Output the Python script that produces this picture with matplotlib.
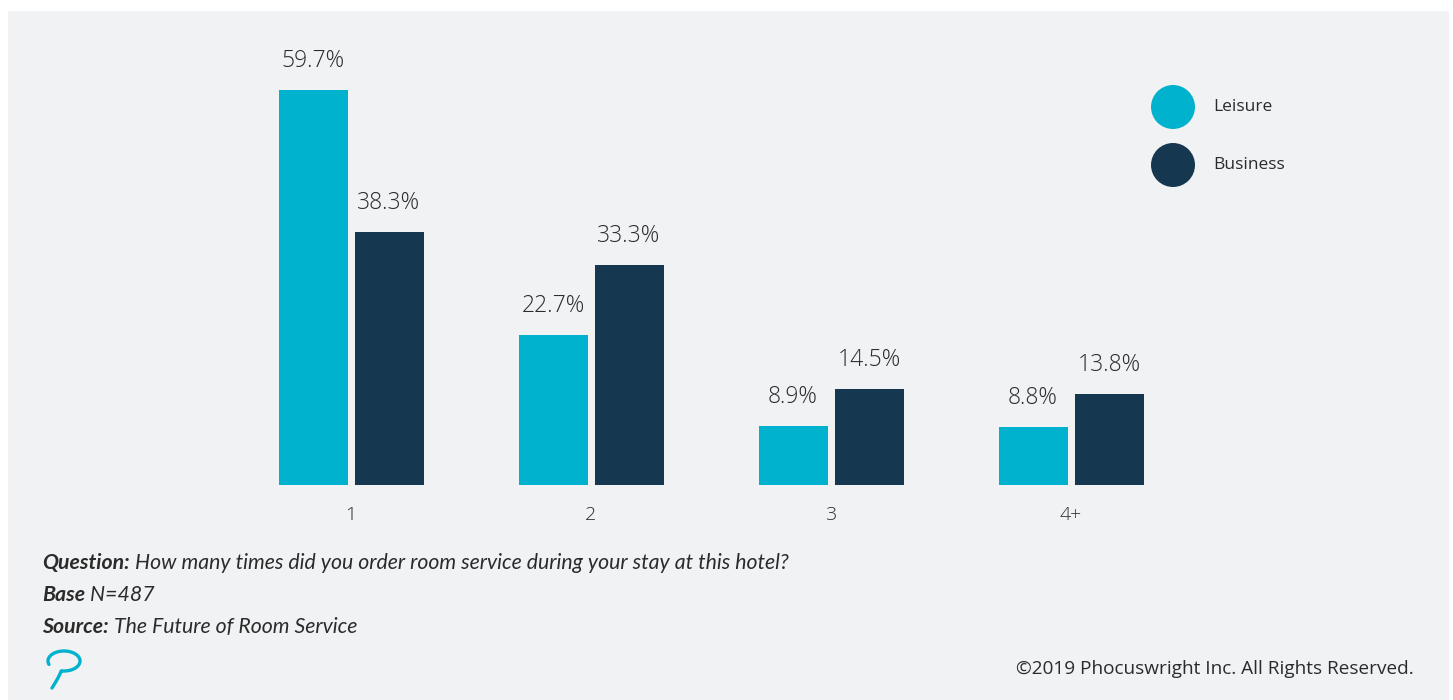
import numpy as np
import matplotlib
matplotlib.use("Agg")
import matplotlib.pyplot as plt
from matplotlib.patches import Rectangle, Ellipse

# Data
categories = ["1", "2", "3", "4+"]
leisure = [59.7, 22.7, 8.9, 8.8]
business = [38.3, 33.3, 14.5, 13.8]
series_names = ["Leisure", "Business"]

CYAN = "#00B2CD"
NAVY = "#15374F"
PANEL = "#F1F2F4"
TEXT = "#2B2B2B"

W, H = 1453, 700
fig = plt.figure(figsize=(W / 100, H / 100), dpi=100, facecolor="white")

# Grey panel behind everything
fig.patches.append(Rectangle((8 / W, 0), (1449 - 8) / W, (H - 11) / H,
                             transform=fig.transFigure, facecolor=PANEL,
                             edgecolor="none", zorder=-5))

# Axes placement in pixels
ax_left, ax_right = 200, 1220
ax_bottom, ax_top = H - 485, H - 40
ax = fig.add_axes([ax_left / W, ax_bottom / H, (ax_right - ax_left) / W,
                   (ax_top - ax_bottom) / H])
ax.set_facecolor("none")
ax.set_zorder(2)

unit = 240.0  # pixels per category step
x = np.arange(len(categories))
width = 69 / unit
offset = 38 / unit
ax.set_xlim(-151 / unit, 3 + 149 / unit)
ppu = 395 / 59.7
ax.set_ylim(0, (ax_top - ax_bottom) / ppu)

b1 = ax.bar(x - offset, leisure, width, color=CYAN, label=series_names[0])
b2 = ax.bar(x + offset, business, width, color=NAVY, label=series_names[1])

for bars, vals in ((b1, leisure), (b2, business)):
    for rect, v in zip(bars, vals):
        ax.annotate(f"{v:.1f}%", (rect.get_x() + rect.get_width() / 2, v),
                    xytext=(0, 12), textcoords="offset points",
                    ha="center", va="bottom", fontsize=16.5, weight="light",
                    family="Open Sans", color=TEXT)

ax.set_xticks(x)
ax.set_xticklabels(categories, fontsize=14, family="Open Sans", color=TEXT,
                   weight="light")
ax.tick_params(axis="x", length=0, pad=15)
ax.set_yticks([])
for s in ax.spines.values():
    s.set_visible(False)

# Legend with circular markers
for i, (name, col) in enumerate(zip(series_names, [CYAN, NAVY])):
    cy = H - (107 + 58 * i)
    fig.patches.append(Ellipse((1173 / W, cy / H), 44 / W, 44 / H,
                               transform=fig.transFigure, facecolor=col,
                               edgecolor="none", zorder=3))
    fig.text(1213 / W, cy / H, name, ha="left", va="center", fontsize=12.5,
             family="Open Sans", color=TEXT)

# Footer notes
notes = [("Question:", " How many times did you order room service during your stay at this hotel?", 563),
         ("Base", " N=487", 595),
         ("Source:", " The Future of Room Service", 627)]
r = fig.canvas.get_renderer()
for bold, rest, ypx in notes:
    t = fig.text(42 / W, (H - ypx) / H, bold, ha="left", va="center",
                 fontsize=15.3, family="Lato", style="italic", weight="bold",
                 color=TEXT)
    bb = t.get_window_extent(renderer=r)
    fig.text(bb.x1 / W, (H - ypx) / H, rest, ha="left", va="center",
             fontsize=15.3, family="Lato", style="italic", color=TEXT)

fig.text(1414 / W, (H - 669) / H, "\u00a92019 Phocuswright Inc. All Rights Reserved.",
         ha="right", va="center", fontsize=13.7, family="Open Sans", color=TEXT)

# Small swirl logo
t = np.linspace(np.radians(200), np.radians(-100), 80)
lx = 64 + 16 * np.cos(t)
ly = 661 - 10 * np.sin(t)
s = np.linspace(0, 1, 30)
p0, p1, p2 = np.array([lx[-1], ly[-1]]), np.array([59, 677]), np.array([52, 688])
tail = ((1 - s) ** 2)[:, None] * p0 + (2 * (1 - s) * s)[:, None] * p1 + (s ** 2)[:, None] * p2
px = np.concatenate([lx, tail[:, 0]])
py = np.concatenate([ly, tail[:, 1]])
fig.add_artist(plt.Line2D(px / W, (H - py) / H, transform=fig.transFigure,
                          color=CYAN, lw=2.4, solid_capstyle="round"))

fig.savefig("out.png", dpi=100, facecolor="white")
